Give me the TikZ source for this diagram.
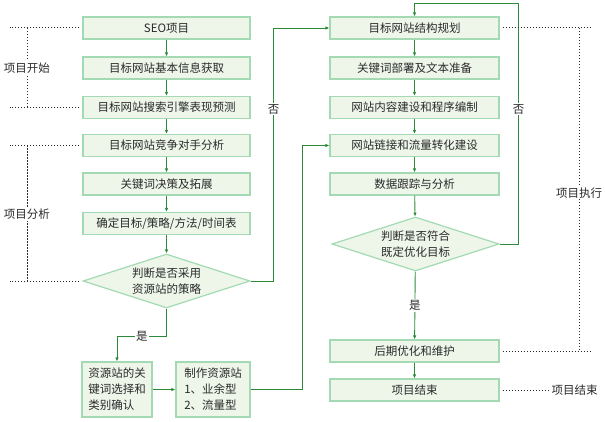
\documentclass[tikz,border=0pt]{standalone}
\usepackage{fontspec}
\setmainfont{Noto Sans CJK SC}
\usetikzlibrary{shapes.geometric,arrows.meta}
\definecolor{boxline}{HTML}{A3DAB3}
\definecolor{boxfill}{HTML}{EEF6EA}
\definecolor{flowline}{HTML}{2B8A3A}
\definecolor{txt}{HTML}{2A2A2A}
\tikzset{
  stepbox/.style={draw=boxline, fill=boxfill, line width=1.2pt, inner sep=0pt,
    minimum height=22pt, text=txt, font=\fontsize{11.5}{16}\selectfont},
  leftbox/.style={stepbox, minimum width=167pt},
  rightbox/.style={stepbox, minimum width=169pt},
  smallbox/.style={stepbox, minimum height=55pt, align=left},
  choice/.style={stepbox, diamond, aspect=3.1, minimum width=167pt,
    minimum height=54pt, align=center},
  flow/.style={draw=flowline, line width=0.9pt, -{Latex[length=4pt,width=3.5pt]}},
  grp/.style={draw=txt, line width=1pt, dash pattern=on 1.2pt off 1.8pt},
  lbl/.style={fill=white, text=txt, inner sep=1pt, font=\fontsize{11.5}{14}\selectfont}
}
\begin{document}
\begin{tikzpicture}[x=1pt,y=-1pt]
  \useasboundingbox (0,0) rectangle (605,422);
  % left column
  \node[leftbox] (l1) at (166.5,28) {SEO项目};
  \node[leftbox] (l2) at (166.5,68) {目标网站基本信息获取};
  \node[leftbox] (l3) at (166.5,107.5) {目标网站搜索引擎表现预测};
  \node[leftbox] (l4) at (166.5,145.5) {目标网站竞争对手分析};
  \node[leftbox] (l5) at (166.5,184) {关键词决策及拓展};
  \node[leftbox] (l6) at (166.5,223.5) {确定目标/策略/方法/时间表};
  \node[choice] (ld) at (166.5,281) {判断是否采用\\资源站的策略};
  \node[smallbox, minimum width=70pt] (la) at (117,389.5) {资源站的关\\键词选择和\\类别确认};
  \node[smallbox, minimum width=74pt] (lb) at (213,389.5) {制作资源站\\1、业余型\\2、流量型};
  % right column
  \node[rightbox] (r1) at (414.5,28) {目标网站结构规划};
  \node[rightbox] (r2) at (414.5,68) {关键词部署及文本准备};
  \node[rightbox] (r3) at (414.5,107.5) {网站内容建设和程序编制};
  \node[rightbox] (r4) at (414.5,145.5) {网站链接和流量转化建设};
  \node[rightbox] (r5) at (414.5,184) {数据跟踪与分析};
  \node[choice] (rd) at (415.5,244) {判断是否符合\\既定优化目标};
  \node[rightbox] (r6) at (414.5,351) {后期优化和维护};
  \node[rightbox] (r7) at (414.5,390) {项目结束};
  \node[lbl] (pe) at (574.5,390) {项目结束};

  \begin{scope}[flow]
    \draw (l1) -- (l2);
    \draw (l2) -- (l3);
    \draw (l3) -- (l4);
    \draw (l4) -- (l5);
    \draw (l5) -- (l6);
    \draw (l6) -- (ld);
    \draw (ld.south) -- ++(0,28) -| node[lbl, pos=0.25] {是} (la.north);
    \draw (la) -- (lb);
    \draw (lb.east) -- ++(52,0) |- (r4.west);
    \draw (ld.east) -- ++(23,0) |- node[lbl, pos=0.34] {否} (r1.west);
    \draw (r1) -- (r2);
    \draw (r2) -- (r3);
    \draw (r3) -- (r4);
    \draw (r4) -- (r5);
    \draw (r5) -- (rd);
    \draw (rd) -- node[lbl] {是} (r6);
    \draw (r6) -- (r7);
    \draw (rd.east) -- ++(19,0) -- node[lbl, pos=0.56] {否} ++(0,-241) -| (r1.north);
  \end{scope}

  % project phases
  \draw[grp] ([xshift=-3pt]l1.west) -- (10,28);
  \draw[grp] ([xshift=-3pt]l3.west) -- (10,107.5);
  \draw[grp] (27,28) -- node[lbl] {项目开始} (27,107.5);
  \draw[grp] ([xshift=-3pt]l4.west) -- (10,145.5);
  \draw[grp] ([xshift=-3pt]ld.west) -- (10,281);
  \draw[grp] (27,145.5) -- node[lbl, pos=0.51] {项目分析} (27,281);
  \draw[grp] ([xshift=3pt]r1.east) -- (592,28);
  \draw[grp] ([xshift=3pt]r6.east) -- (592,351);
  \draw[grp] (579,28) -- node[lbl, pos=0.51] {项目执行} (579,351);
  \draw[grp] ([xshift=3pt]r7.east) -- (pe.west);
\end{tikzpicture}
\end{document}
